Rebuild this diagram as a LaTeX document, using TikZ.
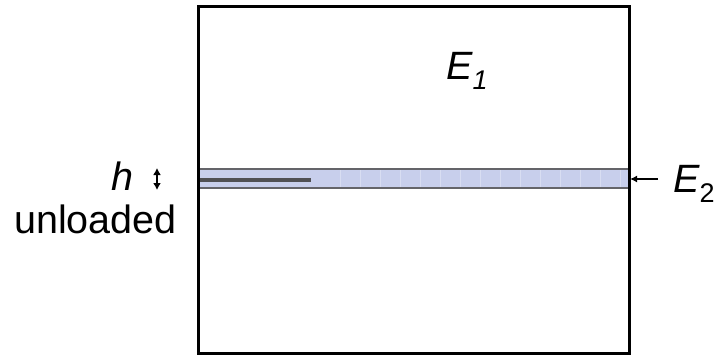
\documentclass[tikz,border=0pt]{standalone}
\usepackage{fontspec}
\setmainfont{Liberation Sans}
\usetikzlibrary{arrows.meta}
\definecolor{bandblue}{RGB}{200,207,236}
\definecolor{bandline}{RGB}{100,100,105}
\tikzset{
  boxline/.style={draw=black,line width=2.6pt},
  label/.style={inner sep=0pt,anchor=base west,font=\fontsize{39.5}{42}\selectfont},
}
\begin{document}
\begin{tikzpicture}[x=1pt,y=-1pt]
\useasboundingbox (0,0) rectangle (715,356);
% band
\fill[bandblue] (198,169) rectangle (628,188);
\foreach \xx in {340,360,...,620} \draw[white!30!bandblue,line width=0.6pt] (\xx,170) -- (\xx,187);
\draw[bandline,line width=2.4pt] (198,169) -- (628,169);
\draw[bandline,line width=2.4pt] (198,188) -- (628,188);
% crack
\coordinate (c0) at (198,180);
\coordinate (c1) at (311,180);
\draw[bandline!80!black,line width=3.4pt] (c0) -- (c1);
% outer box
\node[boxline,minimum width=431pt,minimum height=347pt,anchor=north west,inner sep=0pt] (box) at (197,5) {};
% labels
\node[label] (E1) at (446,79) {\itshape E\textsubscript{\fontsize{27}{29}\selectfont 1}};
\node[label] (E2) at (673,192) {\itshape E\textsubscript{\upshape\fontsize{27}{29}\selectfont 2}};
\node[label] (h) at (111,190) {\itshape h};
\node[label] (unl) at (14,233) {unloaded};
% arrows
\coordinate (a0) at (658,179);
\coordinate (a1) at (630,179);
\draw[line width=1.6pt,-{Latex[length=7pt,width=7pt]}] (a0) -- (a1);
\coordinate (d0) at (157,168);
\coordinate (d1) at (157,190);
\draw[line width=2pt,{Latex[length=7pt,width=8pt]}-{Latex[length=7pt,width=8pt]}] (d0) -- (d1);
\end{tikzpicture}
\end{document}
